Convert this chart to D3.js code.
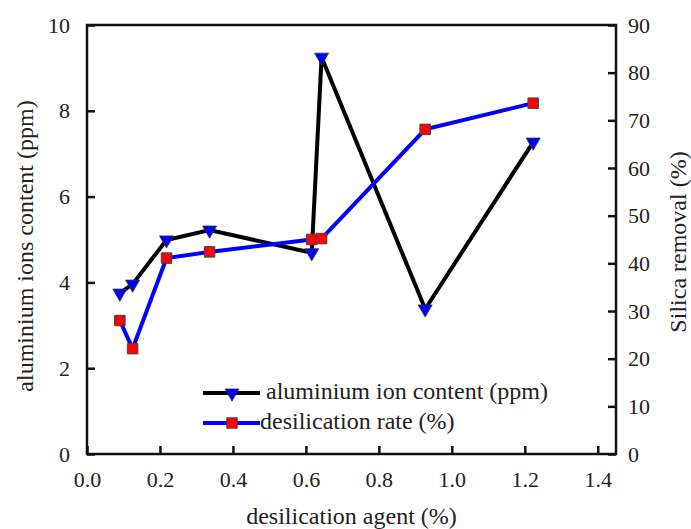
<!DOCTYPE html>
<html>
<head>
<meta charset="utf-8">
<script src="https://cdn.jsdelivr.net/npm/d3@7"></script>
<style>
  body { margin: 0; background: #fff; }
</style>
</head>
<body>
<div id="chart"></div>
<script>
const WIDTH = 691
const HEIGHT = 529
const FONT = "Liberation Serif, Times New Roman, serif"

// data
const agent = [0.09, 0.125, 0.218, 0.336, 0.616, 0.643, 0.927, 1.223]
const aluminium = [3.75, 3.96, 4.99, 5.22, 4.69, 9.25, 3.38, 7.27]
const desilication = [28.0, 22.1, 41.1, 42.4, 45.0, 45.2, 68.1, 73.6]
const xTicks = [0, 0.2, 0.4, 0.6, 0.8, 1.0, 1.2, 1.4]
const leftTicks = [0, 2, 4, 6, 8, 10]
const rightTicks = [0, 10, 20, 30, 40, 50, 60, 70, 80, 90]

const m = { left: 87, right: 616, top: 25, bottom: 454 }

const x = d3.scaleLinear().domain([0, 1.45]).range([m.left, m.right])
const yL = d3.scaleLinear().domain([0, 10]).range([m.bottom, m.top])
const yR = d3.scaleLinear().domain([0, 90]).range([m.bottom, m.top])

const svg = d3.select("#chart")
  .append("svg")
  .attr("width", WIDTH)
  .attr("height", HEIGHT)
  .attr("font-family", FONT)

// frame
svg.append("rect")
  .attr("x", m.left).attr("y", m.top)
  .attr("width", m.right - m.left).attr("height", m.bottom - m.top)
  .attr("fill", "none").attr("stroke", "#111").attr("stroke-width", 2.5)

// axes (ticks inward)
svg.append("g")
  .attr("transform", `translate(0,${m.bottom})`)
  .call(d3.axisBottom(x).tickValues(xTicks).tickFormat(d3.format(".1f")).tickSizeInner(-8).tickSizeOuter(0).tickPadding(17))
svg.append("g")
  .attr("transform", `translate(${m.left},0)`)
  .call(d3.axisLeft(yL).tickValues(leftTicks).tickSizeInner(-8).tickSizeOuter(0).tickPadding(17))
svg.append("g")
  .attr("transform", `translate(${m.right},0)`)
  .call(d3.axisRight(yR).tickValues(rightTicks).tickSizeInner(-8).tickSizeOuter(0).tickPadding(12))

svg.selectAll(".domain").remove()
svg.selectAll(".tick line").attr("stroke", "#111").attr("stroke-width", 2.5)
svg.selectAll(".tick text")
  .attr("font-family", FONT)
  .attr("font-size", 22)
  .attr("fill", "#222")

// axis titles
svg.append("text")
  .attr("x", (m.left + m.right) / 2).attr("y", 524)
  .attr("text-anchor", "middle").attr("font-size", 24).attr("fill", "#222")
  .text("desilication agent (%)")
svg.append("text")
  .attr("transform", "translate(33,246) rotate(-90)")
  .attr("text-anchor", "middle").attr("font-size", 24).attr("fill", "#222")
  .text("aluminium ions content (ppm)")
svg.append("text")
  .attr("transform", "translate(686,242) rotate(-90)")
  .attr("text-anchor", "middle").attr("font-size", 24).attr("fill", "#222")
  .text("Silica removal (%)")

const tri = d3.symbol().type(d3.symbolTriangle).size(85)
const sq = d3.symbol().type(d3.symbolSquare).size(110)

// aluminium series
const lineL = d3.line().x((d, i) => x(agent[i])).y(d => yL(d))
svg.append("path").datum(aluminium)
  .attr("d", lineL).attr("fill", "none")
  .attr("stroke", "#000").attr("stroke-width", 4)

// desilication series
const lineR = d3.line().x((d, i) => x(agent[i])).y(d => yR(d))
svg.append("path").datum(desilication)
  .attr("d", lineR).attr("fill", "none")
  .attr("stroke", "#0000ff").attr("stroke-width", 4)

svg.selectAll(".tri").data(aluminium).enter()
  .append("path").attr("class", "tri")
  .attr("d", tri)
  .attr("transform", (d, i) => `translate(${x(agent[i])},${yL(d)}) rotate(180)`)
  .attr("fill", "#0000ff").attr("stroke", "#333").attr("stroke-width", 0.8)

svg.selectAll(".sq").data(desilication).enter()
  .append("path").attr("class", "sq")
  .attr("d", sq)
  .attr("transform", (d, i) => `translate(${x(agent[i])},${yR(d)})`)
  .attr("fill", "#ff0000").attr("stroke", "#444").attr("stroke-width", 1)

// legend
const legend = svg.append("g")
const leg = [
  { y: 393, color: "#000", sym: tri, rot: 180, fill: "#0000ff", label: "aluminium ion content (ppm)", tx: 266 },
  { y: 423, color: "#0000ff", sym: sq, rot: 0, fill: "#ff0000", label: "desilication rate (%)", tx: 260 }
]
leg.forEach(l => {
  legend.append("line")
    .attr("x1", 203).attr("x2", 260).attr("y1", l.y).attr("y2", l.y)
    .attr("stroke", l.color).attr("stroke-width", 4)
  legend.append("path").attr("d", l.sym)
    .attr("transform", `translate(232,${l.y}) rotate(${l.rot})`)
    .attr("fill", l.fill).attr("stroke", "#333").attr("stroke-width", 0.8)
  legend.append("text")
    .attr("x", l.tx).attr("y", l.y + 6)
    .attr("font-size", 24).attr("fill", "#222")
    .text(l.label)
})
</script>
</body>
</html>
